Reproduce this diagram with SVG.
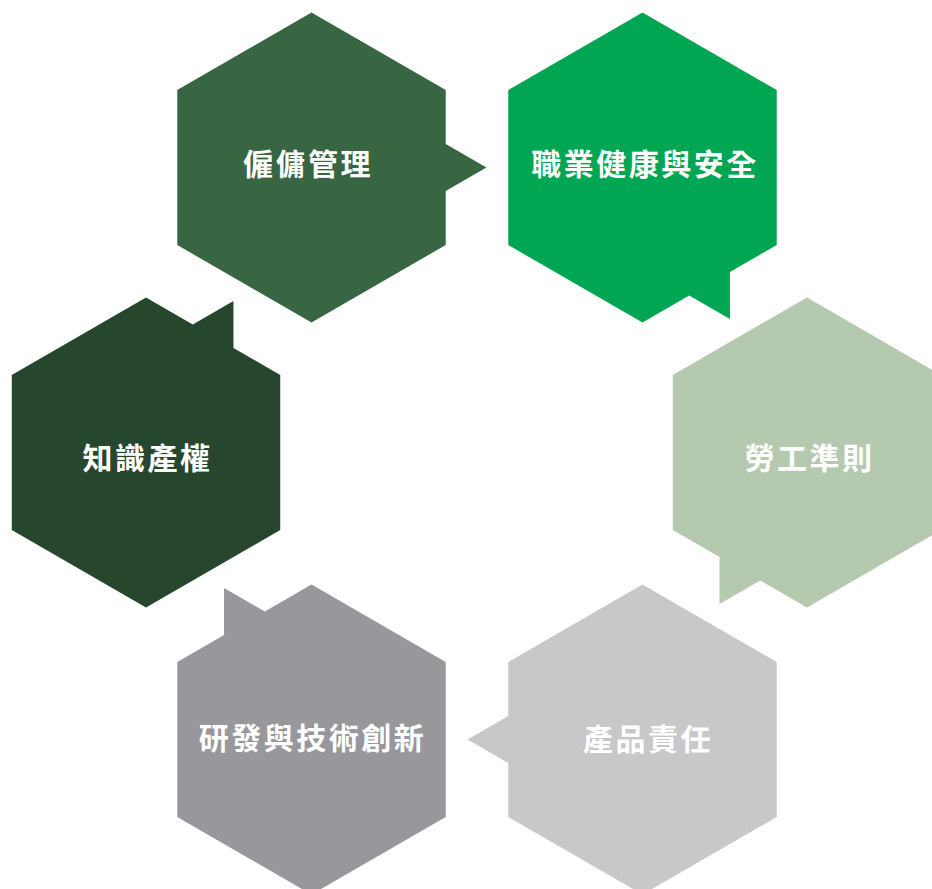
<svg xmlns="http://www.w3.org/2000/svg" width="932" height="889" viewBox="0 0 932 889">
<style>
.lbl{font-family:"Noto Sans CJK TC","Noto Sans CJK SC",sans-serif;font-size:30px;font-weight:700;fill:#ffffff;text-anchor:middle;letter-spacing:2.5px}
</style>
<rect width="932" height="889" fill="#ffffff"/>
<g id="connectors"></g>
<g id="node-employment">
<path d="M311.5,12.5 L445.73,90 L445.73,144 L486.4,167.5 L445.73,191 L445.73,245 L311.5,322.5 L177.27,245 L177.27,90 Z" fill="#386642"/>
<text class="lbl" x="308" y="175">僱傭管理</text>
</g>
<g id="node-ohs">
<path d="M642.5,12.5 L776.73,90 L776.73,245 L729.95,272 L729.95,319 L689.25,295.5 L642.5,322.5 L508.27,245 L508.27,90 Z" fill="#00A651"/>
<text class="lbl" x="645" y="175">職業健康與安全</text>
</g>
<g id="node-labor">
<path d="M807,297.5 L941.23,375 L941.23,530 L807,607.5 L760.25,580.5 L719.55,604 L719.55,557 L672.77,530 L672.77,375 Z" fill="#B5C9AF"/>
<text class="lbl" x="809.5" y="468.5">勞工準則</text>
</g>
<g id="node-product">
<path d="M642.5,584.5 L776.73,662 L776.73,817 L642.5,894.5 L508.27,817 L508.27,763 L467.6,739.5 L508.27,716 L508.27,662 Z" fill="#C7C8CA"/>
<text class="lbl" x="648" y="749.5">產品責任</text>
</g>
<g id="node-rnd">
<path d="M311.5,584.5 L445.73,662 L445.73,817 L311.5,894.5 L177.27,817 L177.27,662 L224.05,635 L224.05,588 L264.75,611.5 Z" fill="#98979C"/>
<text class="lbl" x="312.5" y="748.5">研發與技術創新</text>
</g>
<g id="node-ip">
<path d="M146,297.5 L192.75,324.5 L233.45,301 L233.45,348 L280.23,375 L280.23,530 L146,607.5 L11.77,530 L11.77,375 Z" fill="#26462D"/>
<text class="lbl" x="147.5" y="468.5">知識產權</text>
</g>
</svg>
